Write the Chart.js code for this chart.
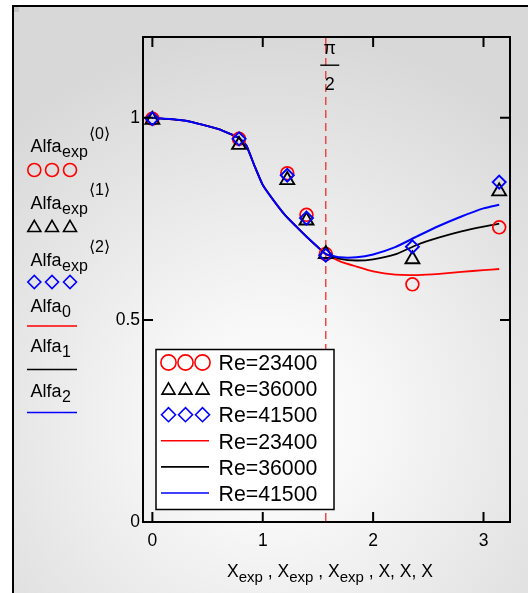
<!DOCTYPE html>
<html><head><meta charset="utf-8">
<script src="https://cdn.jsdelivr.net/npm/chart.js@4.4.1/dist/chart.umd.min.js"></script>
<style>html,body{margin:0;padding:0;background:#fff;}#wrap{width:528px;height:593px;position:relative;}</style>
</head><body><div id="wrap"><canvas id="c" width="528" height="593"></canvas></div>
<script>
// ---- data ----
const xExp = [0, 0.785, 1.222, 1.396, 1.571, 2.356, 3.142];
const alfaExp0 = [0.998, 0.948, 0.863, 0.760, 0.663, 0.588, 0.729];
const alfaExp1 = [0.995, 0.933, 0.846, 0.746, 0.663, 0.650, 0.818];
const alfaExp2 = [0.998, 0.948, 0.858, 0.752, 0.660, 0.681, 0.841];
const xLine = [0, 0.3, 0.6, 0.785, 0.85, 0.92, 1.0, 1.1, 1.2, 1.3, 1.4, 1.5, 1.571, 1.7, 1.85, 2.0, 2.2, 2.4, 2.6, 2.8, 3.0, 3.142];
const alfa0 = [1.0, 0.993, 0.972, 0.950, 0.932, 0.885, 0.834, 0.795, 0.760, 0.732, 0.705, 0.680, 0.663, 0.645, 0.632, 0.620, 0.612, 0.611, 0.614, 0.619, 0.623, 0.626];
const alfa1 = [1.0, 0.993, 0.972, 0.950, 0.932, 0.885, 0.834, 0.795, 0.760, 0.732, 0.705, 0.680, 0.663, 0.651, 0.647, 0.650, 0.662, 0.686, 0.704, 0.719, 0.731, 0.738];
const alfa2 = [1.0, 0.993, 0.972, 0.950, 0.932, 0.885, 0.834, 0.795, 0.760, 0.732, 0.705, 0.680, 0.663, 0.655, 0.655, 0.662, 0.680, 0.707, 0.733, 0.756, 0.776, 0.785];
const seriesLabels = ['Re=23400', 'Re=36000', 'Re=41500'];
const xTickValues = [0, 1, 2, 3];
const yTickValues = [0, 0.5, 1];
const markerValue = Math.PI / 2;
const markerLabelTop = 'π';
const markerLabelBottom = '2';
const leftNames = ['Alfa', 'Alfa', 'Alfa', 'Alfa', 'Alfa', 'Alfa'];
const leftSubs = ['exp', 'exp', 'exp', '0', '1', '2'];
const leftSups = ['⟨0⟩', '⟨1⟩', '⟨2⟩', '', '', ''];
const axisTitleParts = [['X', 'exp'], [' , X', 'exp'], [' , X', 'exp'], [' , X, X, X', '']];

// ---- helpers ----
const FONT = "'Liberation Sans', Arial, sans-serif";
Chart.defaults.font.family = FONT;
const pts = (xs, ys) => xs.map((x, i) => ({x: x, y: ys[i]}));

function marker(ctx, style, x, y, r, color, lw) {
  ctx.save(); ctx.strokeStyle = color; ctx.lineWidth = lw; ctx.beginPath();
  if (style === 'circle') { ctx.arc(x, y, r, 0, Math.PI * 2); }
  else if (style === 'triangle') {
    for (let i = 0; i < 3; i++) { const a = i * 2 * Math.PI / 3; const px = x + Math.sin(a) * r, py = y - Math.cos(a) * r; if (i) ctx.lineTo(px, py); else ctx.moveTo(px, py); }
    ctx.closePath();
  } else { ctx.moveTo(x - r, y); ctx.lineTo(x, y - r); ctx.lineTo(x + r, y); ctx.lineTo(x, y + r); ctx.closePath(); }
  ctx.stroke(); ctx.restore();
}

const datasets = [
  {label: seriesLabels[0], data: pts(xExp, alfaExp0), showLine: false, pointStyle: 'circle', pointRadius: 6.4, borderColor: '#ff0000', backgroundColor: 'rgba(0,0,0,0)', pointBorderWidth: 1.7, order: 3},
  {label: seriesLabels[1], data: pts(xExp, alfaExp1), showLine: false, pointStyle: 'triangle', pointRadius: 8, borderColor: '#000000', backgroundColor: 'rgba(0,0,0,0)', pointBorderWidth: 1.9, order: 2},
  {label: seriesLabels[2], data: pts(xExp, alfaExp2), showLine: false, pointStyle: 'rectRot', pointRadius: 6.5, borderColor: '#0000ff', backgroundColor: 'rgba(0,0,0,0)', pointBorderWidth: 1.9, order: 1},
  {label: seriesLabels[0], data: pts(xLine, alfa0), showLine: true, pointRadius: 0, borderColor: '#ff0000', borderWidth: 1.8, tension: 0.15, order: 6},
  {label: seriesLabels[1], data: pts(xLine, alfa1), showLine: true, pointRadius: 0, borderColor: '#000000', borderWidth: 1.8, tension: 0.15, order: 5},
  {label: seriesLabels[2], data: pts(xLine, alfa2), showLine: true, pointRadius: 0, borderColor: '#0000ff', borderWidth: 2, tension: 0.15, order: 4}
];

const deco = {
  id: 'deco',
  beforeDraw(chart) {
    const ctx = chart.ctx; ctx.save();
    ctx.fillStyle = '#fff'; ctx.fillRect(0, 0, 528, 593);
    const g = ctx.createRadialGradient(270, 420, 0, 270, 420, 390);
    g.addColorStop(0, '#ffffff'); g.addColorStop(0.25, '#f8f8f8'); g.addColorStop(1, '#d8d8d8');
    ctx.fillStyle = g; ctx.fillRect(14, 7, 514, 586);
    ctx.fillStyle = '#000'; ctx.fillRect(12, 5, 516, 2); ctx.fillRect(12, 5, 2, 588);
    ctx.fillStyle = '#c4c4c4'; ctx.fillRect(14, 7, 5, 5);
    ctx.restore();
  },
  beforeDatasetsDraw(chart) {
    const ctx = chart.ctx, a = chart.chartArea, xs = chart.scales.x;
    const px = xs.getPixelForValue(markerValue);
    ctx.save(); ctx.strokeStyle = '#f04848'; ctx.lineWidth = 1.5;
    ctx.setLineDash([8, 5]); ctx.beginPath(); ctx.moveTo(px, a.top + 8); ctx.lineTo(px, a.bottom - 9); ctx.stroke();
    ctx.setLineDash([]); ctx.beginPath(); ctx.moveTo(px, a.top); ctx.lineTo(px, a.top + 8); ctx.moveTo(px, a.bottom); ctx.lineTo(px, a.bottom - 9); ctx.stroke();
    ctx.restore();
  },
  afterDatasetsDraw(chart) {
    const ctx = chart.ctx, a = chart.chartArea, xs = chart.scales.x, ys = chart.scales.y;
    ctx.save();
    ctx.strokeStyle = '#000'; ctx.lineWidth = 2;
    ctx.strokeRect(a.left, a.top, a.right - a.left, a.bottom - a.top);
    ctx.beginPath();
    xTickValues.forEach(v => { const p = xs.getPixelForValue(v); ctx.moveTo(p, a.bottom); ctx.lineTo(p, a.bottom - 10); ctx.moveTo(p, a.top); ctx.lineTo(p, a.top + 10); });
    yTickValues.forEach(v => { const p = ys.getPixelForValue(v); ctx.moveTo(a.left, p); ctx.lineTo(a.left + 10, p); ctx.moveTo(a.right, p); ctx.lineTo(a.right - 10, p); });
    ctx.stroke();
    // pi/2 label
    const px = xs.getPixelForValue(markerValue) + 4;
    ctx.fillStyle = '#000'; ctx.textAlign = 'center'; ctx.textBaseline = 'alphabetic';
    ctx.font = '18px ' + FONT; ctx.fillText(markerLabelTop, px, 54);
    ctx.fillRect(px - 9.5, 64.5, 19, 1.4);
    ctx.font = '18px ' + FONT; ctx.fillText(markerLabelBottom, px, 90);
    // inner legend
    const lx = 156, ly = 349.5, lw = 178, lh = 160;
    ctx.fillStyle = '#fff'; ctx.fillRect(lx, ly, lw, lh);
    ctx.strokeStyle = '#000'; ctx.lineWidth = 1.5; ctx.strokeRect(lx, ly, lw, lh);
    const rowH = 26.1, firstRow = 362.5;
    chart.data.datasets.forEach((ds, i) => {
      const cy = firstRow + i * rowH;
      if (ds.showLine) {
        ctx.strokeStyle = ds.borderColor; ctx.lineWidth = 1.6; ctx.beginPath(); ctx.moveTo(161, cy); ctx.lineTo(209, cy); ctx.stroke();
      } else {
        const r = ds.pointStyle === 'circle' ? 7.6 : (ds.pointStyle === 'triangle' ? 7.5 : 7);
        const dy = ds.pointStyle === 'triangle' ? 1.8 : 0;
        [168.5, 185.5, 202.5].forEach(mx => marker(ctx, ds.pointStyle, mx, cy + dy, r, ds.borderColor, 1.6));
      }
      ctx.fillStyle = '#000'; ctx.textAlign = 'left'; ctx.font = '21.3px ' + FONT;
      ctx.fillText(ds.label, 218.5, cy + 7.7);
    });
    // left legend
    const baseYs = [151.5, 208.5, 265.5, 312, 352, 396.5];
    const supYs = [138.5, 195, 252];
    const markYs = [170, 226, 282];
    const lineYs = [326, 369.5, 412.5];
    for (let i = 0; i < 6; i++) {
      ctx.fillStyle = '#000'; ctx.textAlign = 'left';
      ctx.font = '18px ' + FONT; ctx.fillText(leftNames[i], 30.5, baseYs[i]);
      const w = ctx.measureText(leftNames[i]).width;
      ctx.font = '16px ' + FONT; ctx.fillText(leftSubs[i], 31 + w, baseYs[i] + 5);
      if (leftSups[i]) { ctx.font = '16px ' + FONT; ctx.fillText(leftSups[i], 89, supYs[i]); }
      const ds = chart.data.datasets[i];
      if (i < 3) {
        const r = ds.pointStyle === 'circle' ? 6.5 : (ds.pointStyle === 'triangle' ? 7.5 : 6.5);
        const dy = ds.pointStyle === 'triangle' ? 1.8 : 0;
        [34.3, 52, 70].forEach(mx => marker(ctx, ds.pointStyle, mx, markYs[i] + dy, r, ds.borderColor, 1.6));
      } else {
        ctx.strokeStyle = ds.borderColor; ctx.lineWidth = 1.6; ctx.beginPath(); ctx.moveTo(27, lineYs[i - 3]); ctx.lineTo(77, lineYs[i - 3]); ctx.stroke();
      }
    }
    // x axis title with subscripts
    let total = 0;
    axisTitleParts.forEach(p => { ctx.font = '17.5px ' + FONT; total += ctx.measureText(p[0]).width; ctx.font = '15px ' + FONT; total += ctx.measureText(p[1]).width; });
    let tx = 330 - total / 2; const tb = 577;
    ctx.fillStyle = '#000'; ctx.textAlign = 'left';
    axisTitleParts.forEach(p => {
      ctx.font = '17.5px ' + FONT; ctx.fillText(p[0], tx, tb); tx += ctx.measureText(p[0]).width;
      ctx.font = '15px ' + FONT; ctx.fillText(p[1], tx, tb + 5); tx += ctx.measureText(p[1]).width;
    });
    ctx.restore();
  }
};

new Chart(document.getElementById('c'), {
  type: 'scatter',
  data: {datasets: datasets},
  options: {
    responsive: false, animation: false, events: [],
    layout: {padding: {left: 0, top: 37, right: 18, bottom: 0}},
    plugins: {legend: {display: false}, tooltip: {enabled: false}},
    scales: {
      x: {type: 'linear', min: -0.085, max: 3.24,
        afterBuildTicks(s) { s.ticks = xTickValues.map(v => ({value: v})); },
        afterFit(s) { s.height = 71; },
        grid: {display: false, drawTicks: false}, border: {display: false},
        ticks: {color: '#000', font: {size: 17.5}, padding: 9, callback: v => String(v)}},
      y: {type: 'linear', min: 0, max: 1.2,
        afterBuildTicks(s) { s.ticks = yTickValues.map(v => ({value: v})); },
        afterFit(s) { s.width = 143; },
        grid: {display: false, drawTicks: false}, border: {display: false},
        ticks: {color: '#000', font: {size: 17.5}, padding: 3, callback: v => String(v)}}
    }
  },
  plugins: [deco]
});
</script></body></html>
